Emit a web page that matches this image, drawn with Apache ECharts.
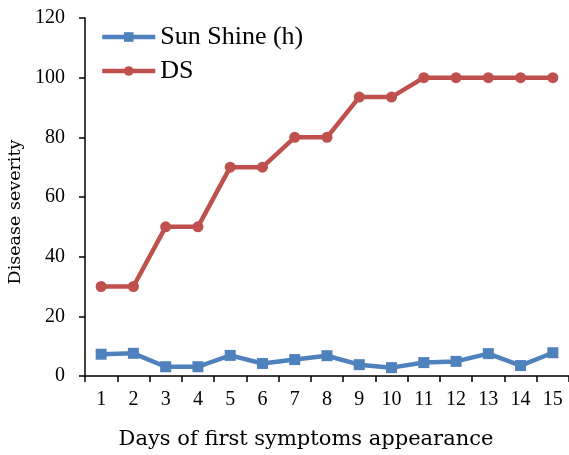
<!DOCTYPE html>
<html>
<head>
<meta charset="utf-8">
<script src="https://cdn.jsdelivr.net/npm/echarts@6/dist/echarts.min.js"></script>
<style>html,body{margin:0;padding:0;background:#fff;}#c{width:569px;height:455px;}</style>
</head>
<body>
<div id="c"></div>
<script>
var days = ['1','2','3','4','5','6','7','8','9','10','11','12','13','14','15'];
var sunShine = [7.3, 7.6, 3.1, 3.1, 6.9, 4.2, 5.5, 6.8, 3.8, 2.8, 4.5, 4.9, 7.5, 3.5, 7.8];
var ds = [30, 30, 50, 50, 70, 70, 80, 80, 93.5, 93.5, 100, 100, 100, 100, 100];
var yTicks = [0, 20, 40, 60, 80, 100, 120];

var chart = echarts.init(document.getElementById('c'), null, {renderer: 'canvas'});
var serif = '"Liberation Serif", "Times New Roman", serif';
chart.setOption({
  animation: false,
  backgroundColor: '#fff',
  grid: {left: 85, right: 0, top: 18, bottom: 79, containLabel: false},
  legend: {
    orient: 'vertical', left: 100, top: 24, padding: 0, itemWidth: 53, itemHeight: 12, itemGap: 8,
    lineStyle: {width: 4.5},
    textStyle: {fontFamily: serif, fontSize: 26, color: '#000', lineHeight: 26},
    data: ['Sun Shine (h)', 'DS']
  },
  xAxis: {
    type: 'category', data: days, boundaryGap: true,
    axisLine: {lineStyle: {color: '#000', width: 1.5}},
    axisTick: {show: true, length: 6, lineStyle: {color: '#000', width: 1.5}},
    axisLabel: {fontFamily: serif, fontSize: 20, color: '#000', margin: 14, interval: 0}
  },
  yAxis: {
    type: 'value', min: yTicks[0], max: yTicks[yTicks.length - 1], interval: 20,
    splitLine: {show: false},
    axisLine: {show: true, lineStyle: {color: '#000', width: 1.5}},
    axisTick: {show: true, length: 6, lineStyle: {color: '#000', width: 1.5}},
    axisLabel: {fontFamily: serif, fontSize: 20, color: '#000', margin: 20}
  },
  graphic: [
    {type: 'text', x: 15, y: 212, rotation: Math.PI / 2,
     style: {text: 'Disease severity', font: '17.5px "DejaVu Serif"', fill: '#000', align: 'center', verticalAlign: 'middle'}},
    {type: 'text', x: 306, y: 440,
     style: {text: 'Days of first symptoms appearance', font: '21px "DejaVu Serif"', fill: '#000', align: 'center', verticalAlign: 'middle'}}
  ],
  series: [
    {name: 'Sun Shine (h)', type: 'line', data: sunShine, symbol: 'rect', symbolSize: 11,
     lineStyle: {color: '#4F81BD', width: 4.5}, itemStyle: {color: '#4F81BD'}},
    {name: 'DS', type: 'line', data: ds, symbol: 'circle', symbolSize: 11,
     lineStyle: {color: '#C0504D', width: 4.5}, itemStyle: {color: '#C0504D'}}
  ]
});
</script>
</body>
</html>
